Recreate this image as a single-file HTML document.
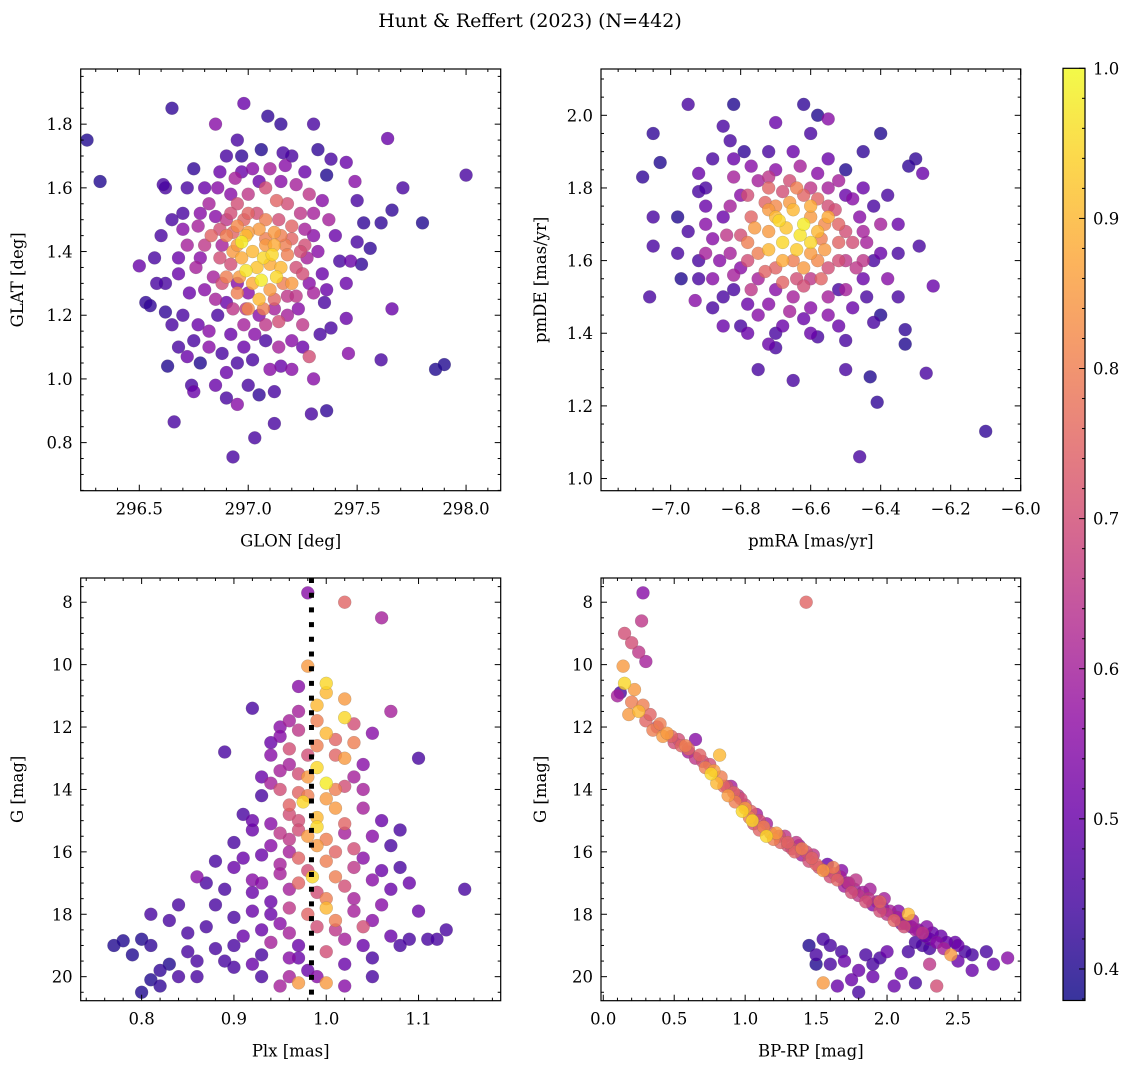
<!DOCTYPE html>
<html><head><meta charset="utf-8"><style>
body{margin:0;background:#fff}
svg text{font-family:"DejaVu Serif","Liberation Serif",serif;fill:#000}
</style></head><body>
<svg id="fig" width="1136" height="1068" xmlns="http://www.w3.org/2000/svg">
<text x="530" y="27" font-size="19" text-anchor="middle">Hunt &amp; Reffert (2023) (N=442)</text>
</svg>
<script>
// ---- data: [x, y, membership probability] ----
const glonGlat = [[296.26,1.75,.4],[296.32,1.62,.4],[296.65,1.85,.42],[296.98,1.865,.5],[297.09,1.825,.42],[297.15,1.80,.42],[296.85,1.80,.55],[297.64,1.755,.5],[298.0,1.64,.45],[297.71,1.60,.45],[297.49,1.62,.55],[297.66,1.53,.42],[297.61,1.49,.42],[297.80,1.49,.4],[297.66,1.22,.5],[297.61,1.06,.45],[297.86,1.03,.4],[297.9,1.045,.4],[297.36,0.90,.42],[297.29,0.89,.45],[296.93,0.755,.45],[297.03,0.815,.45],[296.66,0.865,.45],[296.63,1.04,.4],[296.5,1.355,.5],[296.53,1.24,.42],[296.55,1.23,.42],[296.62,1.21,.42],[296.57,1.38,.45],[296.6,1.45,.45],[296.62,1.60,.45],[296.61,1.61,.45],[296.7,1.52,.45],[296.72,1.60,.45],[296.75,1.66,.42],[296.9,1.70,.45],[296.97,1.70,.42],[297.06,1.72,.4],[297.2,1.70,.45],[297.32,1.72,.42],[297.38,1.69,.45],[297.45,1.68,.5],[297.36,1.64,.4],[297.5,1.56,.45],[297.53,1.49,.42],[297.5,1.43,.45],[297.56,1.41,.42],[297.42,1.37,.45],[297.47,1.37,.5],[297.52,1.36,.42],[297.45,1.30,.5],[297.45,1.19,.5],[297.35,1.24,.45],[297.33,1.14,.45],[297.38,1.16,.45],[297.46,1.08,.55],[297.3,1.0,.55],[297.28,1.07,.7],[297.2,1.03,.55],[297.12,0.96,.45],[297.12,0.86,.45],[297.05,0.95,.42],[297.0,0.98,.45],[296.95,0.92,.55],[296.9,0.94,.45],[296.85,0.98,.5],[296.75,0.96,.5],[296.74,0.98,.45],[296.78,1.05,.4],[296.68,1.1,.45],[296.75,1.12,.45],[296.7,1.2,.45],[296.62,1.3,.45],[296.68,1.33,.5],[296.77,1.17,.5],[296.82,1.15,.55],[296.88,1.08,.45],[296.95,1.05,.45],[297.02,1.06,.45],[297.1,1.03,.55],[297.14,1.1,.6],[297.08,1.12,.45],[297.2,1.12,.55],[297.25,1.17,.65],[297.23,1.22,.55],[296.92,1.14,.5],[296.86,1.2,.45],[296.9,1.24,.5],[296.99,1.22,.65],[296.95,1.3,.55],[296.84,1.32,.6],[296.78,1.38,.55],[296.72,1.42,.6],[296.77,1.48,.6],[296.85,1.51,.55],[296.92,1.58,.55],[296.94,1.63,.6],[297.05,1.62,.5],[297.1,1.66,.6],[297.17,1.67,.55],[297.22,1.61,.6],[297.28,1.58,.65],[297.3,1.52,.6],[297.3,1.45,.55],[297.37,1.50,.6],[297.26,1.42,.7],[297.22,1.35,.7],[297.28,1.30,.55],[297.18,1.26,.65],[297.12,1.22,.6],[297.05,1.2,.55],[297.0,1.27,.55],[296.88,1.42,.6],[296.93,1.46,.75],[296.83,1.45,.75],[296.87,1.38,.7],[296.92,1.36,.7],[296.98,1.5,.75],[297.04,1.52,.7],[297.14,1.5,.7],[297.2,1.48,.75],[297.17,1.42,.8],[297.12,1.46,.85],[297.05,1.47,.85],[296.99,1.45,.9],[296.97,1.43,.98],[296.93,1.40,.85],[297.02,1.40,.9],[297.07,1.38,.95],[297.11,1.39,.95],[297.15,1.35,.9],[297.13,1.32,.95],[296.99,1.34,.97],[297.02,1.30,.88],[297.06,1.31,.98],[297.05,1.25,.9],[297.1,1.28,.85],[297.0,1.22,.82],[296.95,1.27,.8],[296.9,1.32,.8],[297.1,1.36,.88],[297.2,1.3,.85],[297.18,1.39,.8],[296.95,1.48,.82],[297.08,1.44,.8]];
const glonGlatCore = [[296.82,1.55,.6],[296.86,1.6,.55],[296.9,1.5,.65],[296.95,1.55,.7],[297.0,1.58,.65],[297.02,1.66,.55],[297.08,1.6,.7],[297.13,1.56,.75],[297.18,1.55,.7],[297.24,1.52,.65],[297.26,1.47,.6],[297.2,1.44,.75],[297.15,1.45,.8],[297.08,1.5,.8],[297.0,1.52,.75],[296.92,1.52,.7],[296.87,1.47,.7],[296.8,1.42,.65],[296.76,1.35,.6],[296.8,1.28,.55],[296.85,1.25,.6],[296.88,1.3,.7],[296.93,1.22,.65],[296.98,1.17,.6],[297.03,1.14,.55],[297.08,1.17,.65],[297.14,1.18,.7],[297.18,1.2,.6],[297.22,1.26,.65],[297.25,1.33,.7],[297.27,1.38,.6],[297.32,1.4,.55],[297.34,1.33,.5],[297.3,1.27,.6],[297.24,1.4,.7],[297.16,1.3,.8],[297.12,1.25,.75],[297.07,1.22,.8],[296.97,1.38,.88],[296.96,1.32,.85],[297.04,1.35,.92],[297.08,1.42,.85],[297.12,1.42,.88],[296.9,1.45,.8],[296.95,1.42,.85],[297.0,1.46,.85],[296.7,1.47,.55],[296.68,1.38,.5],[296.73,1.27,.5],[296.65,1.17,.45],[296.72,1.07,.5],[296.82,1.1,.55],[296.9,1.02,.5],[296.98,1.1,.5],[297.15,1.04,.5],[297.25,1.1,.5],[297.36,1.28,.5],[297.4,1.45,.5],[297.34,1.56,.55],[297.26,1.65,.5],[297.15,1.62,.55],[296.97,1.65,.5],[296.87,1.65,.5],[296.8,1.6,.5],[296.78,1.52,.55],[296.65,1.5,.45],[296.58,1.3,.45],[297.16,1.71,.45],[296.95,1.75,.45],[297.3,1.8,.45]];
const pmPoints = [[-6.95,2.03,.45],[-7.05,1.95,.42],[-7.08,1.83,.42],[-7.03,1.87,.4],[-7.05,1.72,.45],[-7.05,1.64,.45],[-7.06,1.50,.45],[-6.98,1.62,.45],[-6.82,2.03,.4],[-6.62,2.03,.42],[-6.58,2.0,.4],[-6.55,1.99,.55],[-6.4,1.95,.4],[-6.45,1.9,.42],[-6.5,1.85,.4],[-6.85,1.97,.45],[-6.83,1.93,.45],[-6.79,1.9,.42],[-6.88,1.88,.45],[-6.92,1.84,.5],[-6.92,1.79,.45],[-6.3,1.88,.42],[-6.28,1.84,.5],[-6.32,1.86,.42],[-6.35,1.7,.5],[-6.35,1.62,.45],[-6.29,1.64,.45],[-6.25,1.53,.5],[-6.33,1.41,.42],[-6.33,1.37,.4],[-6.27,1.29,.45],[-6.4,1.45,.4],[-6.42,1.43,.45],[-6.43,1.28,.4],[-6.41,1.21,.42],[-6.1,1.13,.42],[-6.46,1.06,.45],[-6.65,1.27,.45],[-6.58,1.39,.45],[-6.7,1.36,.45],[-6.72,1.37,.5],[-6.8,1.42,.45],[-6.85,1.42,.5],[-6.85,1.5,.45],[-6.93,1.49,.55],[-6.97,1.55,.4],[-6.92,1.6,.45],[-6.88,1.55,.55],[-6.82,1.52,.45],[-6.78,1.48,.5],[-6.75,1.45,.55],[-6.68,1.42,.5],[-6.62,1.44,.5],[-6.55,1.45,.55],[-6.5,1.38,.45],[-6.48,1.47,.5],[-6.52,1.52,.45],[-6.45,1.55,.5],[-6.42,1.6,.45],[-6.44,1.65,.6],[-6.46,1.72,.55],[-6.5,1.78,.5],[-6.55,1.8,.6],[-6.58,1.84,.55],[-6.63,1.86,.6],[-6.7,1.85,.55],[-6.75,1.82,.6],[-6.8,1.78,.55],[-6.85,1.72,.5],[-6.88,1.66,.55],[-6.83,1.62,.6],[-6.8,1.58,.55],[-6.75,1.55,.6],[-6.7,1.52,.55],[-6.65,1.5,.6],[-6.6,1.55,.65],[-6.55,1.58,.7],[-6.5,1.6,.65],[-6.48,1.65,.7],[-6.52,1.7,.75],[-6.55,1.75,.7],[-6.62,1.78,.75],[-6.68,1.79,.7],[-6.73,1.76,.75],[-6.77,1.72,.75],[-6.8,1.67,.7],[-6.75,1.62,.8],[-6.7,1.58,.75],[-6.65,1.6,.8],[-6.6,1.62,.85],[-6.57,1.66,.8],[-6.6,1.72,.85],[-6.65,1.74,.9],[-6.7,1.72,.9],[-6.72,1.68,.85],[-6.68,1.65,.95],[-6.63,1.67,.97],[-6.6,1.65,.95],[-6.62,1.7,.98],[-6.67,1.69,.92],[-6.55,1.72,.88],[-6.7,1.75,.82],[-6.58,1.6,.82],[-6.52,1.65,.75],[-6.78,1.65,.8],[-6.64,1.55,.7],[-6.45,1.6,.65],[-6.4,1.7,.6],[-6.38,1.55,.55],[-6.9,1.7,.55],[-6.9,1.62,.6],[-6.65,1.9,.5],[-6.6,1.95,.45],[-6.7,1.98,.5]];
const pmCore = [[-6.82,1.83,.6],[-6.77,1.86,.55],[-6.72,1.83,.65],[-6.66,1.82,.7],[-6.6,1.8,.65],[-6.52,1.82,.6],[-6.48,1.77,.55],[-6.45,1.68,.6],[-6.47,1.58,.65],[-6.5,1.52,.6],[-6.55,1.5,.6],[-6.6,1.47,.55],[-6.66,1.46,.6],[-6.72,1.48,.55],[-6.77,1.52,.65],[-6.82,1.56,.6],[-6.86,1.6,.55],[-6.84,1.67,.65],[-6.83,1.75,.6],[-6.78,1.78,.7],[-6.72,1.8,.75],[-6.64,1.8,.8],[-6.58,1.77,.75],[-6.53,1.74,.7],[-6.5,1.68,.7],[-6.52,1.6,.7],[-6.57,1.55,.75],[-6.62,1.53,.7],[-6.68,1.54,.75],[-6.73,1.57,.75],[-6.78,1.6,.7],[-6.76,1.69,.85],[-6.72,1.74,.85],[-6.66,1.76,.85],[-6.6,1.75,.88],[-6.56,1.7,.82],[-6.56,1.63,.85],[-6.62,1.58,.85],[-6.68,1.6,.88],[-6.72,1.63,.9],[-6.64,1.63,.93],[-6.69,1.71,.95],[-6.58,1.68,.9],[-6.9,1.75,.5],[-6.95,1.68,.45],[-6.92,1.55,.45],[-6.88,1.47,.45],[-6.78,1.4,.5],[-6.7,1.4,.45],[-6.6,1.4,.5],[-6.52,1.42,.5],[-6.44,1.5,.45],[-6.4,1.62,.5],[-6.42,1.75,.45],[-6.45,1.8,.5],[-6.55,1.88,.5],[-6.72,1.9,.45],[-6.82,1.88,.5],[-6.9,1.8,.45],[-6.98,1.72,.4],[-6.38,1.78,.45],[-6.35,1.5,.45],[-6.5,1.3,.45],[-6.75,1.3,.45]];
const plxG = [[0.98,7.7,.55],[1.02,8.0,.75],[1.06,8.5,.6],[0.98,10.05,.85],[1.0,10.6,.95],[1.0,10.9,.9],[0.99,11.3,.9],[0.97,10.7,.55],[0.92,11.4,.45],[1.07,11.5,.6],[1.02,11.1,.85],[1.02,11.7,.95],[0.96,11.8,.6],[0.95,12.0,.55],[0.95,12.3,.55],[1.03,11.9,.7],[1.0,12.2,.9],[1.03,12.5,.8],[0.96,12.7,.7],[1.02,13.0,.85],[0.99,13.3,.95],[0.89,12.8,.45],[1.1,13.0,.45],[0.94,12.9,.55],[0.97,13.5,.7],[1.03,13.6,.6],[1.0,13.8,.98],[0.95,14.0,.7],[0.98,14.2,.8],[1.04,14.0,.6],[0.93,14.2,.45],[0.96,14.5,.75],[1.01,14.6,.85],[1.04,14.6,.6],[0.99,14.9,.9],[0.97,15.0,.7],[0.94,15.1,.55],[1.06,15.0,.5],[0.92,15.3,.5],[1.02,15.4,.6],[0.9,15.7,.45],[1.07,15.8,.45],[0.96,15.6,.65],[0.99,15.8,.85],[1.01,16.0,.75],[0.93,16.1,.5],[0.88,16.3,.45],[1.04,16.2,.55],[1.08,16.5,.45],[0.9,16.5,.5],[0.95,16.4,.6],[0.98,16.6,.7],[1.01,16.8,.8],[0.86,16.8,.55],[0.92,16.9,.55],[1.05,16.9,.55],[1.09,17.0,.5],[1.15,17.2,.45],[0.96,17.2,.6],[0.99,17.3,.7],[1.03,17.5,.6],[0.94,17.6,.5],[0.88,17.7,.45],[0.84,17.7,.45],[0.81,18.0,.45],[1.06,17.7,.55],[1.1,17.9,.5],[0.9,18.1,.45],[0.98,18.0,.75],[1.01,18.2,.8],[1.04,18.4,.7],[0.95,18.3,.55],[0.87,18.4,.45],[0.83,18.2,.45],[1.07,18.7,.5],[1.09,18.8,.45],[1.13,18.5,.45],[0.91,18.7,.5],[0.94,18.9,.6],[0.97,19.0,.5],[1.0,19.2,.7],[0.77,19.0,.4],[0.78,18.85,.4],[0.79,19.3,.4],[0.81,19.0,.42],[0.85,19.2,.45],[0.86,19.5,.45],[0.83,19.6,.4],[0.82,19.8,.42],[0.89,19.5,.45],[0.93,19.3,.45],[0.96,19.4,.55],[0.98,19.8,.5],[0.99,20.0,.55],[1.02,19.6,.5],[1.05,19.4,.45],[1.08,19.0,.45],[1.11,18.8,.45],[0.84,20.0,.45],[0.86,20.0,.45],[0.81,20.1,.4],[0.9,19.7,.45],[0.93,20.0,.45],[0.96,20.0,.6],[0.97,20.2,.85],[1.0,20.2,.85],[0.95,20.3,.6],[1.02,20.3,.55],[0.8,20.5,.4],[0.82,20.3,.42],[1.05,20.0,.45],[0.97,19.4,.5],[0.99,15.2,.95],[0.985,16.8,.95],[0.975,14.4,.95],[1.0,17.8,.9],[0.96,16.0,.6],[1.03,15.9,.7],[0.92,17.3,.5],[1.02,18.8,.6],[0.94,18.0,.5]];
const plxGCore = [[0.97,12.1,.65],[0.99,12.6,.8],[1.01,12.9,.75],[0.96,13.2,.6],[0.98,13.6,.85],[1.02,13.9,.7],[0.94,13.8,.6],[0.97,14.1,.75],[1.0,14.3,.85],[0.96,14.8,.7],[1.02,15.1,.75],[0.95,15.4,.65],[0.98,15.5,.85],[1.0,15.6,.8],[0.94,15.8,.55],[0.97,16.2,.75],[1.0,16.3,.8],[1.03,16.5,.65],[0.95,16.7,.6],[0.93,17.0,.55],[0.97,17.0,.75],[1.02,17.1,.7],[1.0,17.5,.8],[0.96,17.8,.65],[0.92,17.9,.5],[1.03,17.9,.6],[0.99,18.4,.7],[0.96,18.6,.6],[1.01,18.5,.65],[0.93,18.5,.5],[1.05,18.2,.55],[0.91,16.2,.5],[0.92,15.0,.5],[1.05,15.5,.55],[1.06,16.6,.5],[0.89,17.2,.45],[0.9,19.0,.45],[0.88,19.1,.45],[1.07,17.2,.5],[1.04,19.0,.5],[0.97,15.3,.7],[1.01,14.0,.8],[0.95,13.4,.6],[1.04,13.2,.55],[0.93,13.6,.5],[0.98,12.9,.7],[1.01,12.4,.75],[0.94,12.5,.5],[0.99,11.8,.8],[0.97,11.5,.6],[1.05,12.2,.55],[0.91,14.8,.45],[1.08,15.3,.45],[0.87,17.0,.45],[1.12,18.8,.45],[0.85,18.6,.45],[0.8,18.8,.4],[0.92,19.6,.5]];
const cmdPoints = [[0.28,7.7,.55],[1.43,8.0,.75],[0.27,8.6,.65],[0.15,9.0,.7],[0.2,9.3,.7],[0.25,9.6,.65],[0.3,9.9,.6],[0.14,10.05,.85],[0.15,10.6,.95],[0.12,10.9,.45],[0.2,11.2,.8],[0.25,11.5,.9],[0.3,11.8,.75],[0.38,12.0,.7],[0.42,12.3,.85],[0.5,12.5,.7],[0.55,12.6,.75],[0.6,12.8,.6],[0.65,12.4,.55],[0.82,12.9,.9],[0.7,13.1,.7],[0.76,13.5,.95],[0.8,13.8,.9],[0.85,13.9,.75],[0.88,14.2,.85],[0.93,14.4,.8],[0.98,14.7,.95],[1.03,14.9,.8],[1.06,15.1,.7],[1.1,15.3,.75],[1.15,15.5,.95],[1.2,15.6,.8],[1.25,15.7,.75],[1.3,15.8,.7],[1.35,16.0,.75],[1.4,16.1,.6],[1.45,16.3,.7],[1.5,16.4,.75],[1.55,16.6,.85],[1.6,16.8,.7],[1.65,16.9,.75],[1.7,17.1,.6],[1.75,17.3,.7],[1.8,17.4,.65],[1.85,17.6,.7],[1.9,17.7,.55],[1.95,17.9,.7],[2.0,18.0,.65],[2.05,18.2,.75],[2.1,18.3,.55],[2.15,18.0,.9],[2.2,18.5,.6],[2.25,18.6,.65],[2.3,18.8,.5],[2.35,18.9,.55],[2.4,19.1,.6],[2.45,19.3,.85],[2.5,19.5,.5],[2.6,19.3,.45],[2.7,19.2,.45],[2.75,19.6,.5],[2.85,19.4,.55],[2.6,19.8,.5],[2.3,19.6,.65],[2.35,20.3,.7],[2.2,20.2,.45],[2.1,19.9,.5],[1.9,19.6,.45],[1.85,19.3,.45],[1.8,19.8,.5],[1.75,20.1,.5],[1.8,20.5,.45],[1.7,19.5,.5],[1.6,19.0,.45],[1.55,18.8,.45],[1.5,19.3,.45],[1.45,19.0,.4],[1.55,20.2,.85],[1.6,19.6,.45],[2.0,19.2,.5],[2.25,19.0,.45],[0.1,11.0,.6],[0.18,11.6,.85],[0.35,12.1,.8],[0.45,12.2,.85],[0.6,12.7,.75],[0.72,13.3,.8],[0.9,13.9,.6],[1.0,14.5,.7],[1.08,14.8,.6],[1.15,15.1,.6],[1.28,15.5,.65],[1.38,15.8,.6],[1.48,16.1,.65],[1.58,16.4,.5],[1.68,16.6,.55],[1.78,16.9,.65],[1.88,17.2,.6],[1.98,17.5,.6],[2.08,17.9,.55],[2.18,18.2,.6],[2.28,18.4,.55],[2.38,18.7,.5],[2.48,18.9,.5],[1.05,15.0,.95],[1.22,15.4,.85],[1.4,15.9,.8],[1.62,16.5,.8],[1.72,17.0,.5],[1.95,17.6,.75],[2.12,18.4,.7],[0.65,13.0,.65],[0.95,14.2,.65],[2.5,19.0,.5]];
const cmdCore = [[0.22,10.8,.85],[0.28,11.3,.8],[0.33,11.6,.75],[0.4,11.9,.8],[0.48,12.3,.75],[0.53,12.4,.7],[0.58,12.6,.8],[0.68,12.9,.75],[0.75,13.2,.7],[0.78,13.4,.85],[0.83,13.6,.8],[0.87,13.9,.7],[0.92,14.1,.75],[0.97,14.3,.7],[1.0,14.6,.85],[1.04,14.7,.75],[1.1,15.0,.7],[1.13,15.2,.8],[1.18,15.4,.75],[1.24,15.5,.7],[1.3,15.7,.75],[1.33,15.9,.7],[1.36,15.7,.65],[1.43,16.0,.7],[1.47,16.2,.75],[1.52,16.5,.7],[1.57,16.6,.65],[1.63,16.7,.7],[1.67,16.8,.6],[1.73,17.0,.65],[1.77,17.2,.6],[1.83,17.3,.6],[1.87,17.5,.65],[1.93,17.6,.6],[1.97,17.8,.55],[2.02,17.9,.6],[2.07,18.1,.6],[2.13,18.3,.55],[2.17,18.4,.5],[2.22,18.5,.55],[2.27,18.7,.5],[2.32,18.6,.5],[2.42,18.9,.5],[2.55,19.2,.45],[2.2,18.9,.45],[2.3,19.1,.45],[2.15,19.2,.45],[1.95,19.4,.45],[1.68,19.2,.45],[1.9,20.0,.5],[2.05,20.3,.5],[1.65,20.3,.5],[1.5,19.6,.4]];
const plxRef = [0.984];
const ticksGlon = [296.5,297.0,297.5,298.0];
const ticksGlat = [0.8,1.0,1.2,1.4,1.6,1.8];
const ticksPmra = [-7.0,-6.8,-6.6,-6.4,-6.2,-6.0];
const ticksPmde = [1.0,1.2,1.4,1.6,1.8,2.0];
const ticksPlx = [0.8,0.9,1.0,1.1];
const ticksG = [8,10,12,14,16,18,20];
const ticksBprp = [0.0,0.5,1.0,1.5,2.0,2.5];
const ticksCbar = [0.4,0.5,0.6,0.7,0.8,0.9,1.0];

const NS='http://www.w3.org/2000/svg';
const svg=document.getElementById('fig');
function mk(tag,attrs,parent){const e=document.createElementNS(NS,tag);for(const k in attrs)e.setAttribute(k,attrs[k]);(parent||svg).appendChild(e);return e;}
const stops=['#0d0887','#41049d','#6a00a8','#8f0da4','#b12a90','#cc4778','#e16462','#f2844b','#fca636','#fcce25','#f0f921'];
function hex(h){return [1,3,5].map(i=>parseInt(h.substr(i,2),16));}
const VMIN=0.379,VMAX=1.0;
function plasma(t){t=Math.max(0,Math.min(1,t))*10;const i=Math.min(9,Math.floor(t)),f=t-i;const a=hex(stops[i]),b=hex(stops[i+1]);return 'rgb('+a.map((v,k)=>Math.round(v+(b[k]-v)*f)).join(',')+')';}
function fmt(v,d){return (v<0?'\u2212':'')+Math.abs(v).toFixed(d);}
const FS=16.5;

function panel(cfg){
  const {x0,x1,y0,y1,xmin,xmax,ymin,ymax,invert}=cfg;
  const sx=v=>x0+(v-xmin)/(xmax-xmin)*(x1-x0);
  const sy=invert?(v=>y0+(v-ymin)/(ymax-ymin)*(y1-y0)):(v=>y1-(v-ymin)/(ymax-ymin)*(y1-y0));
  const g=mk('g',{});
  
  
  const clipId='c'+cfg.name;
  const cp=mk('clipPath',{id:clipId},g);mk('rect',{x:x0,y:y0,width:x1-x0,height:y1-y0},cp);
  const pg=mk('g',{'clip-path':'url(#'+clipId+')'},g);
  const pts=cfg.data.slice().sort((a,b)=>a[2]-b[2]);
  pts.forEach(p=>{
    const c=mk('circle',{cx:sx(p[0]),cy:sy(p[1]),r:6.5,fill:plasma((p[2]-VMIN)/(VMAX-VMIN)),'fill-opacity':0.8,stroke:'#666','stroke-width':0.3,'stroke-opacity':0.6},pg);
    
    
  });
  if(cfg.vline){cfg.vline.forEach(v=>{const l=mk('line',{x1:sx(v),x2:sx(v),y1:y0,y2:y1,stroke:'#000','stroke-width':5,'stroke-dasharray':'5,9.7'},pg);
    
    });}
  const tg=mk('g',{stroke:'#000','stroke-width':1},g);
  const xm=cfg.xminor, ym=cfg.yminor;
  for(let v=Math.ceil(xmin/xm)*xm; v<=xmax+1e-9; v+=xm){const X=sx(v);const major=cfg.xt.some(t=>Math.abs(t-v)<xm/4);const L=major?6:3;
    mk('line',{x1:X,x2:X,y1:y1,y2:y1-L},tg);mk('line',{x1:X,x2:X,y1:y0,y2:y0+L},tg);}
  for(let v=Math.ceil(Math.min(ymin,ymax)/ym)*ym; v<=Math.max(ymin,ymax)+1e-9; v+=ym){const Y=sy(v);const major=cfg.yt.some(t=>Math.abs(t-v)<ym/4);const L=major?6:3;
    mk('line',{x1:x0,x2:x0+L,y1:Y,y2:Y},tg);mk('line',{x1:x1,x2:x1-L,y1:Y,y2:Y},tg);}
  mk('rect',{x:x0,y:y0,width:x1-x0,height:y1-y0,fill:'none',stroke:'#000','stroke-width':1.2},g);
  cfg.xt.forEach(v=>{const t=mk('text',{x:sx(v),y:y1+24,'font-size':FS,'text-anchor':'middle'},g);t.textContent=fmt(v,cfg.xd);
    });
  cfg.yt.forEach(v=>{const t=mk('text',{x:x0-8,y:sy(v)+6,'font-size':FS,'text-anchor':'end'},g);t.textContent=fmt(v,cfg.yd);
    });
  const xl=mk('text',{x:(x0+x1)/2,y:y1+56,'font-size':FS,'text-anchor':'middle'},g);xl.textContent=cfg.xl;
  
  const yx=cfg.ylx, yc=(y0+y1)/2;
  const yl=mk('text',{x:yx,y:yc,'font-size':FS,'text-anchor':'middle',transform:'rotate(-90 '+yx+' '+yc+')'},g);yl.textContent=cfg.yl;
  
}
panel({name:'glon-glat-panel',x0:80.7,x1:500.7,y0:69,y1:490.7,xmin:296.231,xmax:298.159,ymin:0.649,ymax:1.9732,data:glonGlat.concat(glonGlatCore),xt:ticksGlon,yt:ticksGlat,xminor:0.1,yminor:0.05,xd:1,yd:1,xl:'GLON [deg]',yl:'GLAT [deg]',ylx:23});
panel({name:'proper-motion-panel',x0:601,x1:1020.7,y0:69,y1:490.7,xmin:-7.199,xmax:-6.0,ymin:0.9665,ymax:2.1275,data:pmPoints.concat(pmCore),xt:ticksPmra,yt:ticksPmde,xminor:0.05,yminor:0.05,xd:1,yd:1,xl:'pmRA [mas/yr]',yl:'pmDE [mas/yr]',ylx:546});
panel({name:'parallax-magnitude-panel',x0:80.7,x1:500.7,y0:578,y1:1000.7,xmin:0.734,xmax:1.189,ymin:7.224,ymax:20.77,invert:true,data:plxG.concat(plxGCore),xt:ticksPlx,yt:ticksG,xminor:0.02,yminor:0.5,xd:1,yd:0,xl:'Plx [mas]',yl:'G [mag]',ylx:23,vline:plxRef});
panel({name:'color-magnitude-panel',x0:601,x1:1020.7,y0:578,y1:1000.7,xmin:-0.016,xmax:2.942,ymin:7.224,ymax:20.77,invert:true,data:cmdPoints.concat(cmdCore),xt:ticksBprp,yt:ticksG,xminor:0.1,yminor:0.5,xd:1,yd:0,xl:'BP-RP [mag]',yl:'G [mag]',ylx:546});
(function(){
  const cx0=1063,cx1=1085,cy0=68.3,cy1=1000.5;
  const g=mk('g',{});
  
  
  const defs=mk('defs',{},g);const lg=mk('linearGradient',{id:'cbg',x1:0,y1:1,x2:0,y2:0},defs);
  stops.forEach((s,i)=>mk('stop',{offset:i/10,'stop-color':s},lg));
  mk('rect',{x:cx0,y:cy0,width:cx1-cx0,height:cy1-cy0,fill:'url(#cbg)','fill-opacity':0.82},g);
  const sy=v=>cy1-(v-VMIN)/(VMAX-VMIN)*(cy1-cy0);
  for(let v=0.38;v<=1.0001;v+=0.02){const Y=sy(v);const major=Math.abs(v*10-Math.round(v*10))<0.05;mk('line',{x1:cx1,x2:cx1-(major?6:3),y1:Y,y2:Y,stroke:'#000','stroke-width':1},g);}
  mk('rect',{x:cx0,y:cy0,width:cx1-cx0,height:cy1-cy0,fill:'none',stroke:'#000','stroke-width':1.2},g);
  ticksCbar.forEach(v=>{const t=mk('text',{x:cx1+8,y:sy(v)+6,'font-size':FS},g);t.textContent=v.toFixed(1);
    });
})();
</script>
</body></html>
